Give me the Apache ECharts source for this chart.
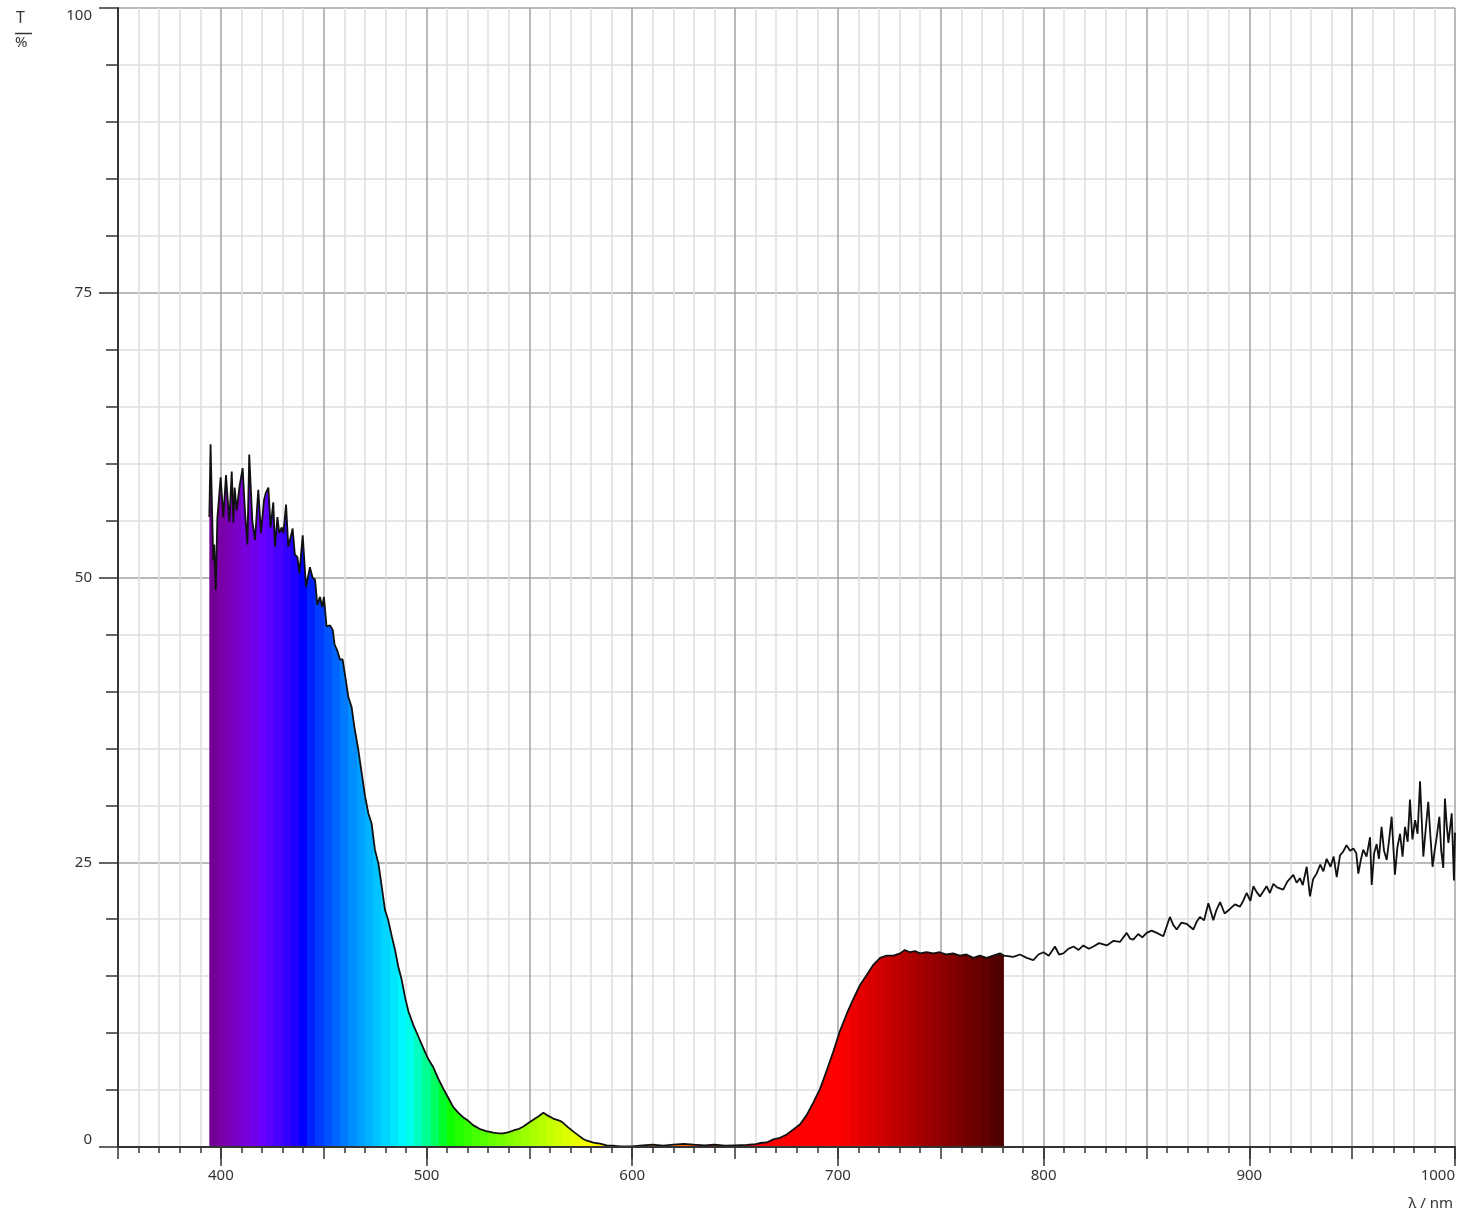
<!DOCTYPE html>
<html>
<head>
<meta charset="utf-8">
<script src="https://cdn.jsdelivr.net/npm/echarts@6/dist/echarts.min.js"></script>
<style>
  html, body { margin: 0; padding: 0; background: #ffffff; }
  #chart { width: 1466px; height: 1217px; }
</style>
</head>
<body>
<div id="chart"></div>
<script>
// ---- data: [wavelength nm, transmittance %] ----
const violetBlue = [
  [394.4,55.3],[395.0,61.7],[396.3,51.5],[396.8,52.9],[397.5,48.9],[398.3,55.2],[399.9,58.8],[401.2,55.3],
  [402.5,59.0],[404.1,54.9],[405.3,59.3],[406.1,54.8],[406.7,57.9],[407.7,55.9],[409.0,57.9],[410.6,59.6],
  [411.7,55.9],[412.9,52.9],[413.8,60.8],[415.3,55.0],[416.6,53.3],[418.2,57.7],[419.5,53.9],[421.0,56.8],
  [421.8,57.4],[423.1,57.9],[424.2,54.4],[425.5,56.6],[426.3,52.7],[427.5,55.3],[428.4,53.9],[429.6,54.4],
  [430.4,53.9],[431.7,56.4],[432.8,52.7],[433.6,53.3],[434.9,54.3],[436.0,52.0],[437.2,51.8],[438.2,50.4],
  [439.8,53.7],[441.4,49.2],[443.3,50.9],[444.6,50.0],[445.8,49.8],[446.9,47.6],[448.2,48.3],[449.3,47.4],
  [450.1,48.3],[451.4,45.7],[453.1,45.8],[454.4,45.4],[455.3,44.1],[456.6,43.6],[457.9,42.8],[459.2,42.8],
  [460.4,41.4],[462.0,39.5],[463.6,38.6],[464.9,36.9]
];
const cyanGreen = [
  [466.8,34.9],[468.5,32.8],[470.1,30.8],[471.7,29.3],[473.3,28.4],[474.9,26.1],[476.6,24.9],[478.2,22.9],
  [479.8,20.8],[481.4,19.9],[483.1,18.5],[484.7,17.3],[486.3,15.8],[487.9,14.7],[489.5,13.2],[491.2,11.9],
  [493.6,10.7],[496.0,9.7],[498.4,8.7],[500.9,7.7],[503.3,7.0],[505.7,6.0],[508.2,5.1],[510.6,4.3],
  [513.0,3.5],[515.5,3.0],[517.9,2.6],[520.3,2.3],[522.8,1.9],[525.7,1.6],[529.0,1.4],[532.5,1.26],
  [535.0,1.2],[537.3,1.2],[540.0,1.3],[542.2,1.45],[545.0,1.6],[547.1,1.8],[549.5,2.1],[551.9,2.4],
  [554.5,2.7],[556.8,3.0],[558.5,2.8],[561.6,2.5],[564.9,2.3],[566.5,2.1],[569.0,1.7],[571.4,1.35],
  [574.0,1.0],[576.2,0.7],[578.0,0.55],[581.1,0.38],[584.3,0.3],[587.6,0.15],[590.8,0.12],[594.1,0.05]
];
const orangeRed = [
  [600.0,0.05],[605.0,0.15],[610.0,0.2],[615.0,0.12],[620.0,0.2],[625.0,0.28],[630.0,0.2],[635.0,0.15],
  [640.0,0.2],[645.0,0.12],[650.0,0.15],[655.6,0.18],[660.0,0.25],[662.1,0.35],[665.4,0.4],[668.6,0.67],
  [671.8,0.8],[675.1,1.1],[678.0,1.5],[681.6,2.0],[684.8,2.8],[688.0,3.9],[691.3,5.1],[694.5,6.7],
  [697.8,8.4],[701.0,10.2],[704.3,11.7],[707.5,13.0],[710.7,14.2],[714.0,15.1],[717.2,16.0],[720.5,16.6],
  [723.7,16.8],[727.0,16.8],[730.2,17.0],[732.5,17.3],[735.0,17.1],[737.5,17.2],[739.9,17.0],[743.0,17.1],
  [746.4,17.0],[749.5,17.1],[752.9,16.9],[756.0,17.0],[759.3,16.8],[762.5,16.9],[765.8,16.6],[769.0,16.8],
  [772.3,16.6],[775.5,16.8],[778.8,17.0],[780.7,16.8]
];
const nearInfrared = [
  [785.3,16.7],[788.5,16.9],[791.8,16.6],[795.0,16.4],[797.5,16.9],[799.9,17.1],[802.5,16.8],[805.5,17.6],
  [807.5,16.9],[809.6,17.0],[812.0,17.4],[814.5,17.6],[817.0,17.3],[819.3,17.7],[822.0,17.4],[824.2,17.6],
  [827.0,17.9],[830.7,17.7],[834.0,18.1],[837.1,18.0],[840.4,18.8],[842.0,18.3],[843.6,18.2],[846.0,18.7],
  [848.0,18.4],[850.1,18.8],[852.5,19.0],[855.0,18.8],[858.2,18.5],[861.4,20.2],[863.0,19.5],[864.7,19.1],
  [867.0,19.7],[869.5,19.6],[872.8,19.1],[874.5,19.8],[876.0,20.2],[878.0,19.9],[880.1,21.4],[882.5,19.9],
  [884.0,20.8],[885.8,21.5],[888.0,20.5],[890.6,20.9],[893.0,21.3],[895.5,21.1],[897.0,21.6],[898.7,22.3],
  [900.5,21.6],[902.0,22.9],[903.5,22.4],[905.2,22.0],[907.0,22.5],[908.4,22.9],[910.0,22.3],[911.7,23.1],
  [913.5,22.8],[916.5,22.6],[918.5,23.3],[921.4,23.9],[923.0,23.2],[924.6,23.6],[926.0,23.0],[927.9,24.6],
  [929.5,22.0],[931.0,23.5],[932.7,24.0],[934.5,24.8],[936.0,24.2],[937.6,25.3],[939.5,24.6],[941.0,25.5],
  [942.5,23.7],[944.1,25.6],[945.5,25.9],[947.3,26.5],[949.0,26.0],[950.6,26.2],[952.0,25.8],[953.0,24.0],
  [954.2,25.2],[955.4,26.1],[957.0,25.5],[958.7,27.2],[959.5,23.0],[960.7,25.8],[961.9,26.6],[963.0,25.3],
  [964.3,28.1],[965.5,26.0],[966.8,25.2],[968.0,27.0],[969.2,29.0],[970.8,23.9],[972.0,26.3],[973.3,27.5],
  [974.5,25.5],[975.7,28.1],[977.0,26.8],[978.1,30.5],[979.3,27.0],[980.6,28.7],[981.8,27.5],[983.0,32.1],
  [984.6,25.5],[985.8,28.0],[987.0,30.3],[988.0,27.4],[989.1,24.6],[990.1,26.0],[991.1,27.2],[992.4,29.0],
  [993.3,26.0],[994.3,24.5],[995.1,30.6],[996.0,28.2],[996.8,26.7],[997.6,28.0],[998.4,29.3],[999.5,23.4],
  [1000.0,27.6]
];
const xLabelValues = [400, 500, 600, 700, 800, 900, 1000];
const yLabelValues = [0, 25, 50, 75, 100];

// ---- build series data ----
const fillData = violetBlue.concat(cyanGreen, orangeRed);
const lineData = fillData.concat(nearInfrared);

// visible-spectrum colour for a wavelength (style only)
function specColor(nm) {
  let r = 0, g = 0, b = 0;
  if (nm < 440) { r = -(nm - 440) / 60; b = 1; }
  else if (nm < 490) { g = (nm - 440) / 50; b = 1; }
  else if (nm < 510) { g = 1; b = -(nm - 510) / 20; }
  else if (nm < 580) { r = (nm - 510) / 70; g = 1; }
  else if (nm < 645) { r = 1; g = -(nm - 645) / 65; }
  else { r = 1; }
  let f = 1;
  if (nm < 420) f = 0.3 + 0.7 * (nm - 380) / 40;
  else if (nm > 700) f = 0.3 + 0.7 * (780 - nm) / 80;
  const c = v => Math.round(255 * Math.pow(v, 0.8) * f);
  return 'rgb(' + c(r) + ',' + c(g) + ',' + c(b) + ')';
}
const fStart = fillData[0][0], fEnd = fillData[fillData.length - 1][0];
const span = fEnd - fStart;
const stops = [];
for (let w = Math.floor(fStart); w < fEnd; w += 4) {
  const col = specColor(Math.min(w + 2, 780));
  stops.push({ offset: Math.max(0, (w - fStart) / span), color: col });
  stops.push({ offset: Math.min(1, (w + 4 - fStart) / span), color: col });
}

const FONT = 'Noto Sans';
const chart = echarts.init(document.getElementById('chart'), null, { renderer: 'canvas' });
chart.setOption({
  animation: false,
  backgroundColor: '#ffffff',
  grid: { left: 118, right: 11, top: 8, bottom: 70, containLabel: false, outerBoundsMode: 'none' },
  xAxis: [
    {
      type: 'value', min: 350, max: 1000, interval: 50, z: 0,
      axisLine: { show: false, onZero: false },
      axisTick: { show: true, length: 12, lineStyle: { color: '#333', width: 1.5 } },
      minorTick: { show: true, splitNumber: 5, length: 6, lineStyle: { color: '#333', width: 1.5 } },
      splitLine: { show: true, lineStyle: { color: '#a3a3a3', width: 1.5 } },
      minorSplitLine: { show: true, lineStyle: { color: '#dedede', width: 1.5 } },
      axisLabel: {
        margin: 21, fontFamily: FONT, fontSize: 15, color: '#333',
        alignMaxLabel: 'right',
        formatter: v => (xLabelValues.indexOf(v) >= 0 ? String(v) : '')
      }
    },
    {
      type: 'value', min: 350, max: 1000, z: 10, position: 'bottom',
      axisLine: { show: true, onZero: false, lineStyle: { color: '#333', width: 2 } },
      axisTick: { show: true, length: 19, customValues: xLabelValues, lineStyle: { color: '#333', width: 1.5 } },
      axisLabel: { show: false },
      splitLine: { show: false }
    }
  ],
  yAxis: {
    type: 'value', min: 0, max: 100, interval: 25,
    axisLine: { show: true, onZero: false, lineStyle: { color: '#333', width: 2 } },
    axisTick: { show: true, length: 19, lineStyle: { color: '#333', width: 1.5 } },
    minorTick: { show: true, splitNumber: 5, length: 12, lineStyle: { color: '#333', width: 1.5 } },
    splitLine: { show: true, lineStyle: { color: '#a3a3a3', width: 1.5 } },
    minorSplitLine: { show: true, lineStyle: { color: '#dedede', width: 1.5 } },
    axisLabel: {
      margin: 26, fontFamily: FONT, fontSize: 15, color: '#333',
      verticalAlignMinLabel: 'bottom', verticalAlignMaxLabel: 'top',
      formatter: v => (yLabelValues.indexOf(v) >= 0 ? String(v) : '')
    }
  },
  series: [
    {
      type: 'line', data: fillData, xAxisIndex: 0, showSymbol: false, symbol: 'none', z: 2,
      lineStyle: { width: 0, opacity: 0 },
      areaStyle: {
        opacity: 1,
        color: new echarts.graphic.LinearGradient(0, 0, 1, 0, stops)
      },
      silent: true
    },
    {
      type: 'line', data: lineData, xAxisIndex: 0, showSymbol: false, symbol: 'none', z: 3,
      lineStyle: { color: '#111', width: 1.8 },
      silent: true
    }
  ],
  graphic: [
    { type: 'text', left: 16, top: 10, style: { text: 'T', font: '16px "Noto Sans"', fill: '#333' } },
    { type: 'line', shape: { x1: 15, y1: 33.5, x2: 32, y2: 33.5 }, style: { stroke: '#333', lineWidth: 1.5 } },
    { type: 'text', left: 15, top: 35, style: { text: '%', font: '15px "Noto Sans"', fill: '#333' } },
    { type: 'text', right: 13, top: 1196, style: { text: 'λ / nm', font: '15px "Noto Sans"', fill: '#333' } }
  ]
});
</script>
</body>
</html>
